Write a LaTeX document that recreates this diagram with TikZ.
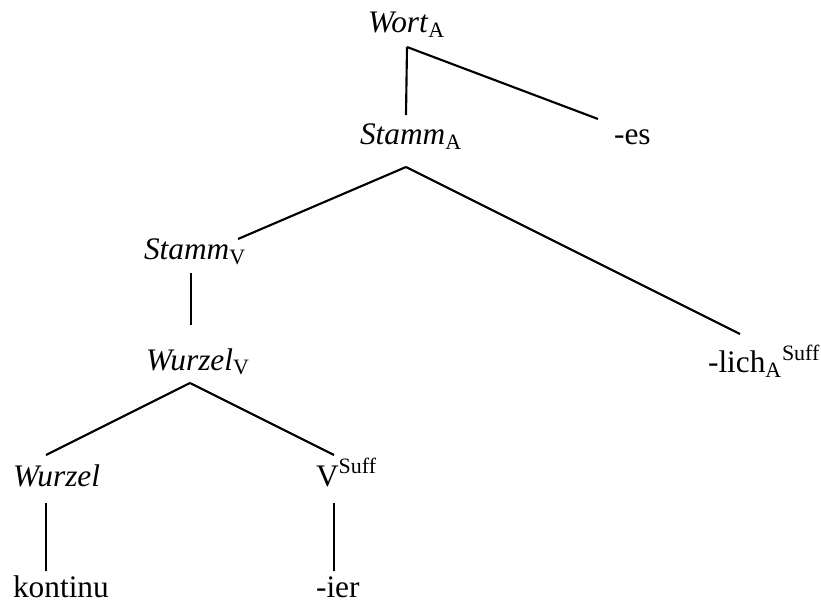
\documentclass[tikz,border=0pt]{standalone}
\usepackage{fontspec}
\setmainfont{Liberation Serif}
\usepackage{tikz}
\tikzset{lbl/.style={inner sep=0pt, anchor=base west}}
\newcommand{\edge}[6]{\draw ([shift={(#2,#3)}]#1.base west) -- ([shift={(#5,#6)}]#4.base west);}

\begin{document}
\begin{tikzpicture}[x=0.75pt, y=-0.75pt, line width=1.6pt, font=\fontsize{23.5}{28}\selectfont]
        \useasboundingbox (0,0) rectangle (821,602);
        % level 1
        \node[lbl] (wortA) at (367,33) {\textit{Wort}\textsubscript{A}};
        % level 2
        \node[lbl] (stammA) at (359,145) {\textit{Stamm}\textsubscript{A}};
        \node[lbl] (es) at (613,145) {-es};
        % level 3
        \node[lbl] (stammV) at (143,260) {\textit{Stamm}\textsubscript{V}};
        \node[lbl] (wurzelV) at (145,370) {\textit{Wurzel}\textsubscript{V}};
        \node[lbl] (lich) at (707,373) {-lich\textsubscript{A}\textsuperscript{Suff}};
        % level 4
        \node[lbl] (wurzel) at (12,486) {\textit{Wurzel}};
        \node[lbl] (vsuff) at (315,486) {V\textsuperscript{Suff}};
        % level 5
        \node[lbl] (kontinu) at (12,597) {kontinu};
        \node[lbl] (ier) at (315,597) {-ier};
        % branches
        \edge{wortA}{40}{14}{stammA}{47}{-30}
        \edge{wortA}{40}{14}{es}{-15}{-26}
        \edge{stammA}{47}{22}{stammV}{95}{-21}
        \edge{stammA}{47}{22}{lich}{33}{-39}
        \edge{stammV}{48}{13}{wurzelV}{46}{-45}
        \edge{wurzelV}{45}{13}{wurzel}{34}{-31}
        \edge{wurzelV}{45}{13}{vsuff}{19}{-31}
        \edge{wurzel}{34}{17}{kontinu}{34}{-26}
        \edge{vsuff}{19}{17}{ier}{19}{-26}
\end{tikzpicture}
\end{document}
